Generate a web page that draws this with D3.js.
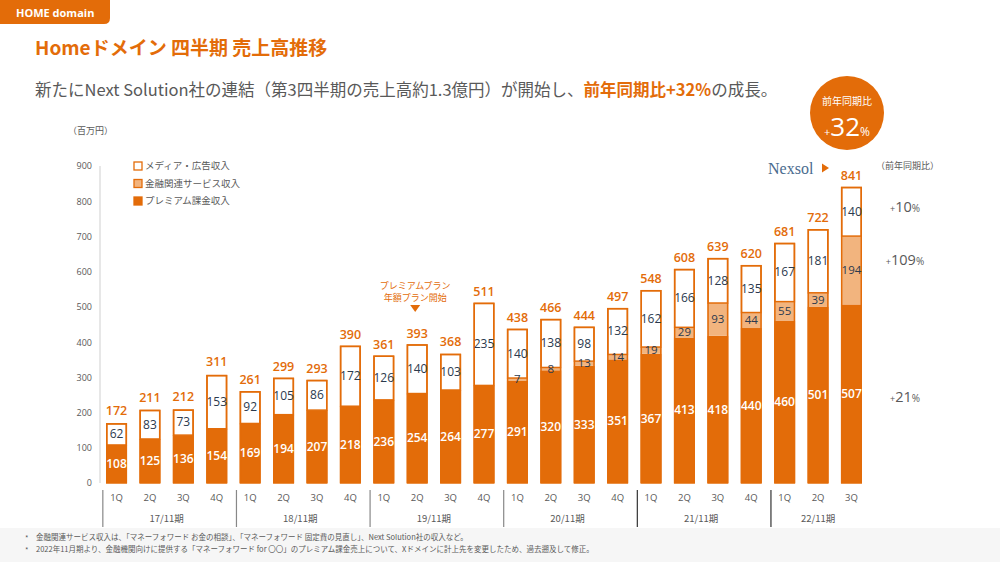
<!DOCTYPE html>
<html><head><meta charset="utf-8">
<script src="https://cdn.jsdelivr.net/npm/d3@7"></script>
<style>
html,body{margin:0;padding:0;background:#fff;}
svg{display:block;font-family:"Noto Sans CJK JP","Noto Sans",sans-serif;}
</style></head>
<body>
<svg id="c" width="1000" height="562"></svg>
<script>
const quarters = ["1Q","2Q","3Q","4Q","1Q","2Q","3Q","4Q","1Q","2Q","3Q","4Q","1Q","2Q","3Q","4Q","1Q","2Q","3Q","4Q","1Q","2Q","3Q"];
const fiscalYears = ["17/11期","18/11期","19/11期","20/11期","21/11期","22/11期"];
const premium = [108,125,136,154,169,194,207,218,236,254,264,277,291,320,333,351,367,413,418,440,460,501,507];
const finance = [0,0,0,0,0,0,0,0,0,0,0,0,7,8,13,14,19,29,93,44,55,39,194];
const media   = [62,83,73,153,92,105,86,172,126,140,103,235,140,138,98,132,162,166,128,135,167,181,140];
const totals  = [172,211,212,311,261,299,293,390,361,393,368,511,438,466,444,497,548,608,639,620,681,722,841];
const yTicks = [0,100,200,300,400,500,600,700,800,900];
const seriesNames = ["メディア・広告収入","金融関連サービス収入","プレミアム課金収入"];
const yoyLabels = ["10","109","21"];

const ORANGE = "#E36C09", LIGHT = "#F2B47E", GRAY = "#595959", NAVY = "#2B3A4E";
const svg = d3.select("#c");

// footer background
svg.append("rect").attr("x",0).attr("y",528).attr("width",1000).attr("height",34).attr("fill","#f6f6f6");

// header tab
svg.append("path").attr("d","M0,0 H110 V18 Q110,24 104,24 H0 Z").attr("fill",ORANGE);
svg.append("text").attr("x",16).attr("y",16.5).attr("fill","#fff").attr("font-size",11).attr("font-weight","bold")
  .attr("font-family","'Open Sans',sans-serif").text("HOME domain");

// title
svg.append("text").attr("x",35).attr("y",55).attr("fill",ORANGE).attr("font-size",19).attr("font-weight",600).text("Homeドメイン 四半期 売上高推移");

// subtitle
const sub = svg.append("text").attr("x",35).attr("y",96).attr("font-size",16.5).attr("fill",GRAY);
sub.append("tspan").text("新たにNext Solution社の連結（第3四半期の売上高約1.3億円）が開始し、");
sub.append("tspan").attr("fill",ORANGE).attr("font-weight","bold").text("前年同期比+32%");
sub.append("tspan").text("の成長。");

// unit
svg.append("text").attr("x",68).attr("y",134).attr("font-size",9).attr("fill",GRAY).text("（百万円）");

// scales
const x = d3.scaleBand().domain(d3.range(quarters.length)).range([100,868]).paddingInner(0.37).paddingOuter(0.18);
const y = d3.scaleLinear().domain([0,900]).range([483,166]);
const bw = x.bandwidth();

// y axis
const ya = svg.append("g").attr("transform","translate(92,0)")
  .call(d3.axisLeft(y).tickValues(yTicks).tickSize(0).tickPadding(0));
ya.select(".domain").remove();
ya.selectAll("text").attr("fill",GRAY).attr("font-size",9).attr("font-family","'Open Sans',sans-serif");
svg.append("line").attr("x1",100).attr("x2",100).attr("y1",166).attr("y2",483).attr("stroke","#cfcfcf").attr("stroke-width",1);

// x axis quarter labels
const xa = svg.append("g").attr("transform","translate(0,492)")
  .call(d3.axisBottom(x).tickFormat(i=>quarters[i]).tickSize(0).tickPadding(0));
xa.select(".domain").remove();
xa.selectAll("text").attr("fill",GRAY).attr("font-size",9.5).attr("font-family","'Open Sans',sans-serif").attr("dy","0.9em");

// year groups
fiscalYears.forEach((fy,g)=>{
  const ids = d3.range(g*4, Math.min(g*4+4, quarters.length));
  const cx = (x(ids[0]) + x(ids[ids.length-1]) + bw)/2;
  svg.append("text").attr("x",cx).attr("y",522).attr("text-anchor","middle").attr("font-size",9.5).attr("fill",GRAY).text(fy);
  const sx = x(g*4) - x.step()*x.paddingInner()/2 + 3;
  svg.append("line").attr("x1",sx).attr("x2",sx).attr("y1",490).attr("y2",527)
    .attr("stroke", g>=4 ? "#333" : "#888").attr("stroke-width",1.2);
});

// bars
const bars = svg.append("g");
const idx = d3.range(quarters.length);
bars.selectAll(".p").data(idx).join("rect")
  .attr("x",i=>x(i)).attr("width",bw)
  .attr("y",i=>y(premium[i])).attr("height",i=>y(0)-y(premium[i])).attr("fill",ORANGE);
bars.selectAll(".f").data(idx.filter(i=>finance[i]>0)).join("rect")
  .attr("x",i=>x(i)).attr("width",bw)
  .attr("y",i=>y(premium[i]+finance[i])).attr("height",i=>y(premium[i])-y(premium[i]+finance[i])).attr("fill",LIGHT);
bars.selectAll(".m").data(idx).join("rect")
  .attr("x",i=>x(i)+0.75).attr("width",bw-1.5)
  .attr("y",i=>y(premium[i]+finance[i]+media[i])+0.75)
  .attr("height",i=>y(premium[i]+finance[i])-y(premium[i]+finance[i]+media[i])-0.75)
  .attr("fill","#fff").attr("stroke",ORANGE).attr("stroke-width",1.5);
bars.selectAll(".o").data(idx).join("rect")
  .attr("x",i=>x(i)+0.75).attr("width",bw-1.5)
  .attr("y",i=>y(premium[i]+finance[i]+media[i])+0.75)
  .attr("height",i=>y(0)-y(premium[i]+finance[i]+media[i])-0.75)
  .attr("fill","none").attr("stroke",ORANGE).attr("stroke-width",1.5);

// labels
const lab = svg.append("g").attr("text-anchor","middle").attr("font-family","'Open Sans',sans-serif");
lab.selectAll(".lp").data(idx).join("text")
  .attr("x",i=>x(i)+bw/2).attr("y",i=>(y(0)+y(premium[i]))/2).attr("dy","0.35em")
  .attr("font-size",12).attr("font-weight",600).attr("fill","#fff").text(i=>premium[i]);
lab.selectAll(".lf").data(idx.filter(i=>finance[i]>0)).join("text")
  .attr("x",i=>x(i)+bw/2).attr("y",i=>(y(premium[i])+y(premium[i]+finance[i]))/2).attr("dy","0.35em")
  .attr("font-size",11.5).attr("fill",NAVY).attr("font-weight",500).text(i=>finance[i]);
lab.selectAll(".lm").data(idx).join("text")
  .attr("x",i=>x(i)+bw/2).attr("y",i=>(y(premium[i]+finance[i])+y(premium[i]+finance[i]+media[i]))/2).attr("dy","0.35em")
  .attr("font-size",12).attr("fill",NAVY).attr("font-weight",500).text(i=>media[i]);
lab.selectAll(".lt").data(idx).join("text")
  .attr("x",i=>x(i)+bw/2).attr("y",i=>y(totals[i])-7)
  .attr("font-size",12.5).attr("font-weight",600).attr("fill",ORANGE).text(i=>totals[i]);

// legend
const lg = svg.append("g");
const legendFill = ["#fff", LIGHT, ORANGE];
seriesNames.forEach((n,k)=>{
  const ly = 166 + k*17.5;
  lg.append("rect").attr("x",134).attr("y",ly-4).attr("width",8).attr("height",8)
    .attr("fill",legendFill[k]).attr("stroke",ORANGE).attr("stroke-width",1.3);
  lg.append("text").attr("x",145).attr("y",ly).attr("dy","0.35em").attr("font-size",9.5).attr("fill",GRAY).text(n);
});

// annotation
const an = svg.append("g").attr("text-anchor","middle").attr("fill",ORANGE).attr("font-size",9);
an.append("text").attr("x",x(9)+bw/2-2).attr("y",289).text("プレミアムプラン");
an.append("text").attr("x",x(9)+bw/2-2).attr("y",301).text("年額プラン開始");
an.append("path").attr("d",`M${x(9)+bw/2-7},305 h10 l-5,7 z`).attr("fill",ORANGE);

// badge
svg.append("circle").attr("cx",847).attr("cy",113).attr("r",37).attr("fill",ORANGE);
svg.append("text").attr("x",847).attr("y",105).attr("text-anchor","middle").attr("fill","#fff").attr("font-size",10).text("前年同期比");
const bt = svg.append("text").attr("x",847).attr("y",136).attr("text-anchor","middle").attr("fill","#fff").attr("font-family","'Open Sans',sans-serif");
bt.append("tspan").attr("font-size",11).text("+");
bt.append("tspan").attr("font-size",26).text("32");
bt.append("tspan").attr("font-size",12).text("%");

// Nexsol
svg.append("text").attr("x",768).attr("y",174).attr("fill","#4A6B8E").attr("font-size",16)
  .attr("font-family","'Liberation Serif',serif").text("Nexsol");
svg.append("path").attr("d","M822,163.5 l7,4.5 l-7,4.5 z").attr("fill",ORANGE);
svg.append("text").attr("x",876).attr("y",169).attr("fill",GRAY).attr("font-size",9).text("（前年同期比）");

// yoy labels
const yoyY = [
  (y(premium[22]+finance[22])+y(totals[22]))/2 + 1,
  (y(premium[22])+y(premium[22]+finance[22]))/2 - 5,
  (y(0)+y(premium[22]))/2 + 8
];
yoyLabels.forEach((v,k)=>{
  const t = svg.append("text").attr("x",905).attr("y",yoyY[k]).attr("text-anchor","middle").attr("fill",GRAY)
    .attr("font-family","'Open Sans',sans-serif");
  t.append("tspan").attr("font-size",9).text("+");
  t.append("tspan").attr("font-size",14.5).text(v);
  t.append("tspan").attr("font-size",10).text("%");
});

// footnotes
const fn = svg.append("g").attr("font-size",7.5).attr("fill",GRAY);
fn.append("text").attr("x",25).attr("y",541).text("*");
fn.append("text").attr("x",36).attr("y",540).text("金融関連サービス収入は、「マネーフォワード お金の相談」、「マネーフォワード 固定費の見直し」、Next Solution社の収入など。");
fn.append("text").attr("x",25).attr("y",553).text("*");
fn.append("text").attr("x",36).attr("y",552).text("2022年11月期より、金融機関向けに提供する「マネーフォワード for 〇〇」のプレミアム課金売上について、Xドメインに計上先を変更したため、過去遡及して修正。");
</script>
</body></html>
